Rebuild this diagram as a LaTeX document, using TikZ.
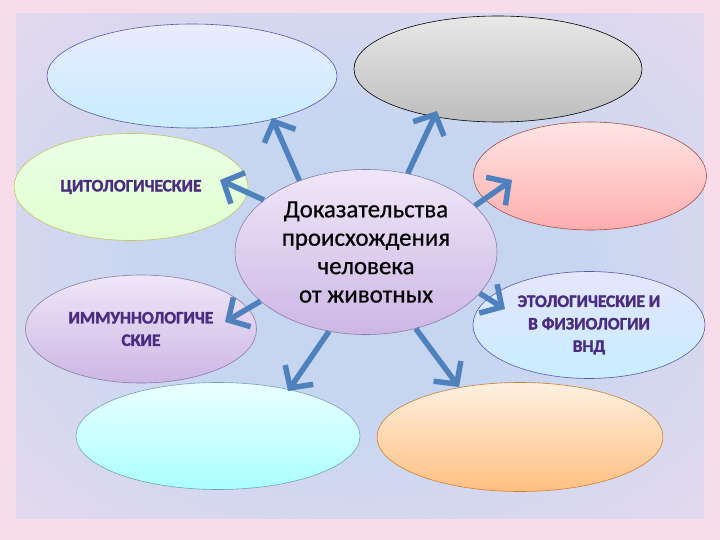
\documentclass[tikz,border=0pt]{standalone}
\usepackage{fontspec}
\setmainfont{Carlito}
\newfontfamily\heavyfont{Carlito}[BoldFeatures={FakeBold=1.8}]
\newfontfamily\titlefont{Carlito}[FakeBold=0.6]
\usetikzlibrary{arrows.meta, shapes.geometric, calc}

\definecolor{bgmid}{HTML}{C6D6F1}
\definecolor{bgrim}{HTML}{EFDAEC}
\definecolor{bgedge}{HTML}{F8DCEA}
\definecolor{arrblue}{HTML}{4F81BD}
\definecolor{lblpurple}{HTML}{4B2C80}
\definecolor{lavtop}{HTML}{EFE7F8}
\definecolor{lavbot}{HTML}{CDB6E5}
\definecolor{lavline}{HTML}{8A7CA8}
\pgfdeclareradialshading{bgglow}{\pgfpoint{0bp}{0bp}}{color(0bp)=(bgmid); color(14bp)=(bgmid); color(44bp)=(bgrim); color(72bp)=(bgrim)}

\begin{document}
\begin{tikzpicture}[x=1bp, y=-1bp,
    oval/.style={ellipse, draw, line width=0.6bp, inner sep=0pt, align=center},
    lbl/.style={text=lblpurple, font=\heavyfont\fontsize{17.5}{22.5}\selectfont\bfseries},
    arr/.style={draw=arrblue, line width=5.5bp, -{Straight Barb[length=16bp, width=34bp]}}]
    \useasboundingbox (0,0) rectangle (720,540);
    \fill[bgedge] (0,0) rectangle (720,540);
    \fill[shading=bgglow] (16,14) rectangle (704,518);

    \node[oval, minimum width=290bp, minimum height=104bp, top color=blue!8!white, bottom color=blue!32!cyan!22!white, draw=blue!30!gray] (blue) at (192,76) {};
    \node[oval, minimum width=288bp, minimum height=106bp, top color=black!9, bottom color=black!26, draw=black] (grey) at (498,69) {};
    \node[oval, minimum width=234bp, minimum height=107bp, top color=yellow!20!green!10!white, bottom color=yellow!35!green!18!white, draw=olive!50, lbl] (cyto) at (131,187) {ЦИТОЛОГИЧЕСКИЕ};
    \node[oval, minimum width=233bp, minimum height=108bp, top color=red!10!white, bottom color=red!32!white, draw=red!50!black!70] (pink) at (590,176) {};
    \node[oval, minimum width=262bp, minimum height=165bp, top color=lavtop, bottom color=lavbot, draw=lavline, font=\titlefont\fontsize{25}{28.5}\selectfont] (centre) at (366,252) {Доказательства\\происхождения\\человека\\от животных};
    \node[oval, minimum width=231bp, minimum height=108bp, top color=lavtop, bottom color=lavbot, draw=lavline, lbl] (immuno) at (141,329) {ИММУННОЛОГИЧЕ\\СКИЕ};
    \node[oval, minimum width=232bp, minimum height=107bp, top color=blue!10!white, bottom color=blue!32!cyan!22!white, draw=blue!30!gray, lbl] (etho) at (589,325) {ЭТОЛОГИЧЕСКИЕ И\\В ФИЗИОЛОГИИ\\ВНД};
    \node[oval, minimum width=284bp, minimum height=107bp, top color=cyan!8!white, bottom color=cyan!33!white, draw=cyan!40!gray] (cyan) at (218,436) {};
    \node[oval, minimum width=286bp, minimum height=109bp, top color=orange!12!white, bottom color=orange!50!white, draw=orange!60!gray] (orange) at (520,437) {};

    \coordinate (tipBlue) at (272,118);
    \coordinate (tipGrey) at (437,111);
    \coordinate (tipCyto) at (220,180);
    \coordinate (tipPink) at (512,180);
    \coordinate (tipImmuno) at (225,322);
    \coordinate (tipEtho) at (505,309);
    \coordinate (tipCyan) at (288,391);
    \coordinate (tipOrange) at (459,387);

    \draw[arr] (centre.133) -- (tipBlue);
    \draw[arr] (centre.62) -- (tipGrey);
    \draw[arr] (centre.153) -- (tipCyto);
    \draw[arr] (centre.23) -- (tipPink);
    \draw[arr] (centre.205) -- (tipImmuno);
    \draw[arr] (centre.-20) -- (tipEtho);
    \draw[arr] (centre.245) -- (tipCyan);
    \draw[arr] (centre.-57) -- (tipOrange);
\end{tikzpicture}
\end{document}
